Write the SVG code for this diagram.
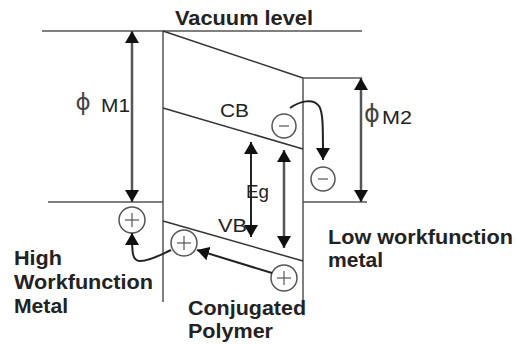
<svg xmlns="http://www.w3.org/2000/svg" width="518" height="345" viewBox="0 0 518 345">
  <defs>
    <marker id="ah" markerUnits="userSpaceOnUse" viewBox="0 0 12 14" refX="12" refY="7" markerWidth="12" markerHeight="14" orient="auto-start-reverse">
      <path d="M0,0 L12,7 L0,14 z" fill="#111"/>
    </marker>
  </defs>
  <style>
    .ln { stroke: #555; stroke-width: 1.5; fill: none; }
    .band { stroke: #333; stroke-width: 1.5; fill: none; }
    .arr { stroke: #222; stroke-width: 2; fill: none; }
    .garr { stroke: #555; stroke-width: 2.5; fill: none; }
    .chg { stroke: #555; stroke-width: 1.5; fill: #fff; }
    .sign { stroke: #555; stroke-width: 1.2; }
    .lbl { font-family: "Liberation Sans", Arial, sans-serif; font-weight: bold; font-size: 20px; fill: #222; }
    .sm { font-family: "Liberation Sans", Arial, sans-serif; font-size: 18px; fill: #222; }
    .phi { font-family: "DejaVu Sans", sans-serif; fill: #444; text-anchor: middle; }
  </style>
  <rect width="518" height="345" fill="#fff"/>

  <g id="vacuum-level">
    <line class="ln" x1="42" y1="31" x2="362" y2="31"/>
    <text class="lbl" x="175" y="25" textLength="138" lengthAdjust="spacingAndGlyphs">Vacuum level</text>
  </g>

  <g id="high-workfunction-metal">
    <line class="ln" x1="48" y1="202" x2="163" y2="202"/>
    <text class="lbl" x="14" y="265" textLength="48" lengthAdjust="spacingAndGlyphs">High</text>
    <text class="lbl" x="14" y="289" textLength="139" lengthAdjust="spacingAndGlyphs">Workfunction</text>
    <text class="lbl" x="14" y="313" textLength="54" lengthAdjust="spacingAndGlyphs">Metal</text>
    <text class="phi" x="83" y="110" font-size="23">ϕ</text>
    <text class="sm" x="101" y="112" textLength="29" lengthAdjust="spacingAndGlyphs">M1</text>
  </g>

  <g id="conjugated-polymer">
    <line class="ln" x1="163" y1="31" x2="163" y2="302"/>
    <line class="band" x1="163" y1="31" x2="303" y2="78"/>
    <line class="ln" x1="303" y1="78" x2="303" y2="300"/>
    <line class="band" x1="163" y1="108" x2="303" y2="149"/>
    <line class="band" x1="163" y1="221" x2="303" y2="261"/>
    <text class="sm" x="220" y="117" textLength="29" lengthAdjust="spacingAndGlyphs">CB</text>
    <text class="sm" x="218" y="232" textLength="29" lengthAdjust="spacingAndGlyphs">VB</text>
    <text class="sm" x="246" y="198" textLength="23" lengthAdjust="spacingAndGlyphs">Eg</text>
    <text class="lbl" x="188" y="315" textLength="118" lengthAdjust="spacingAndGlyphs">Conjugated</text>
    <text class="lbl" x="188" y="338" textLength="85" lengthAdjust="spacingAndGlyphs">Polymer</text>
  </g>

  <g id="low-workfunction-metal">
    <line class="ln" x1="303" y1="78" x2="362" y2="78"/>
    <line class="ln" x1="303" y1="202" x2="367" y2="202"/>
    <text class="phi" x="372" y="122" font-size="24">ϕ</text>
    <text class="sm" x="382" y="124" textLength="30" lengthAdjust="spacingAndGlyphs">M2</text>
    <text class="lbl" x="328" y="244" textLength="185" lengthAdjust="spacingAndGlyphs">Low workfunction</text>
    <text class="lbl" x="328" y="267" textLength="55" lengthAdjust="spacingAndGlyphs">metal</text>
  </g>

  <g id="electron-cb">
    <circle class="chg" cx="284" cy="126" r="12"/>
    <line class="sign" x1="279" y1="126" x2="289" y2="126"/>
  </g>
  <g id="electron-metal">
    <circle class="chg" cx="323" cy="179" r="12"/>
    <line class="sign" x1="318" y1="179" x2="328" y2="179"/>
  </g>
  <g id="hole-metal">
    <circle class="chg" cx="132" cy="220" r="13"/>
    <line class="sign" x1="125" y1="220" x2="139" y2="220"/>
    <line class="sign" x1="132" y1="213" x2="132" y2="227"/>
  </g>
  <g id="hole-interface">
    <circle class="chg" cx="184" cy="243" r="13"/>
    <line class="sign" x1="177" y1="243" x2="191" y2="243"/>
    <line class="sign" x1="184" y1="236" x2="184" y2="250"/>
  </g>
  <g id="hole-vb">
    <circle class="chg" cx="284" cy="278" r="13"/>
    <line class="sign" x1="277" y1="278" x2="291" y2="278"/>
    <line class="sign" x1="284" y1="271" x2="284" y2="285"/>
  </g>

  <g id="connectors">
    <line class="garr" x1="132" y1="31" x2="132" y2="202" marker-start="url(#ah)" marker-end="url(#ah)"/>
    <line class="garr" x1="361" y1="78" x2="361" y2="202" marker-start="url(#ah)" marker-end="url(#ah)"/>
    <line class="arr" x1="251" y1="142" x2="251" y2="237" marker-start="url(#ah)" marker-end="url(#ah)"/>
    <line class="garr" x1="284" y1="150" x2="284" y2="248" marker-start="url(#ah)" marker-end="url(#ah)"/>
    <path class="arr" d="M290,108 C300,101 313,98 319,106 C323,112 323,125 323,160" marker-end="url(#ah)"/>
    <line class="arr" x1="272" y1="273" x2="197" y2="250" marker-end="url(#ah)"/>
    <path class="arr" d="M171,250 C160,255 150,261 140,261 C132,261 132,252 132,233" marker-end="url(#ah)"/>
  </g>
</svg>
